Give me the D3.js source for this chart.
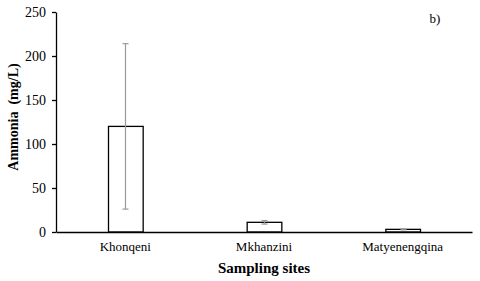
<!DOCTYPE html>
<html>
<head>
<meta charset="utf-8">
<script src="https://d3js.org/d3.v7.min.js"></script>
</head>
<body style="margin:0; background:#fff">
<div id="chart-area"></div>
<script>
// data
var sites = ['Khonqeni', 'Mkhanzini', 'Matyenengqina'];
var ammonia = [120, 11, 3];
var errors = [94, 2, 0.5];
var yTicks = [0, 50, 100, 150, 200, 250];

var serif = 'Liberation Serif';

var margin = { left: 56, right: 8, top: 12, bottom: 49 };
var width = 480 - margin.left - margin.right;
var height = 281 - margin.top - margin.bottom;

var svg = d3.select('#chart-area').append('svg')
    .attr('width', 480)
    .attr('height', 281)
    .attr('font-family', serif);

var g = svg.append('g')
    .attr('transform', 'translate(' + margin.left + ',' + margin.top + ')');

var x = d3.scaleBand()
    .domain(sites)
    .range([0, width])
    .paddingInner(0.75)
    .paddingOuter(0.375);

var y = d3.scaleLinear()
    .domain([0, 250])
    .range([height, 0]);

// bars
g.selectAll('rect.bar').data(sites)
    .enter().append('rect')
    .attr('class', 'bar')
    .attr('x', d => x(d) + 0.5)
    .attr('y', (d, i) => y(ammonia[i]))
    .attr('width', x.bandwidth())
    .attr('height', (d, i) => height - y(ammonia[i]))
    .attr('fill', '#fff')
    .attr('stroke', '#000')
    .attr('stroke-width', 1.3);

// error bars
var err = g.selectAll('g.err').data(sites)
    .enter().append('g')
    .attr('class', 'err')
    .attr('stroke', '#999')
    .attr('stroke-width', 1.2);

var cx = d => Math.round(x(d) + x.bandwidth() / 2) + 0.5;

err.append('line')
    .attr('x1', cx).attr('x2', cx)
    .attr('y1', (d, i) => y(ammonia[i] + errors[i]))
    .attr('y2', (d, i) => y(ammonia[i] - errors[i]));
err.append('line')
    .attr('x1', d => cx(d) - 3).attr('x2', d => cx(d) + 3)
    .attr('y1', (d, i) => y(ammonia[i] + errors[i]))
    .attr('y2', (d, i) => y(ammonia[i] + errors[i]));
err.append('line')
    .attr('x1', d => cx(d) - 3).attr('x2', d => cx(d) + 3)
    .attr('y1', (d, i) => y(ammonia[i] - errors[i]))
    .attr('y2', (d, i) => y(ammonia[i] - errors[i]));

// axes
var yAxisGroup = g.append('g')
    .call(d3.axisLeft(y).tickValues(yTicks).tickSize(4).tickSizeOuter(0).tickPadding(6))
    .attr('font-family', serif)
    .attr('font-size', 14);
yAxisGroup.selectAll('text').attr('fill', '#000');
yAxisGroup.selectAll('path, line').attr('stroke', '#000').attr('stroke-width', 1.3);

var xAxisGroup = g.append('g')
    .attr('transform', 'translate(0,' + height + ')')
    .call(d3.axisBottom(x).tickSize(0).tickPadding(10))
    .attr('font-family', serif)
    .attr('font-size', 13);
xAxisGroup.selectAll('text').attr('fill', '#000');
xAxisGroup.select('path').attr('stroke', '#000').attr('stroke-width', 1.5);

// X Label
svg.append('text')
    .attr('x', margin.left + width / 2)
    .attr('y', 273)
    .attr('text-anchor', 'middle')
    .attr('font-size', 15)
    .attr('font-weight', 'bold')
    .text('Sampling sites');

// Y Label
svg.append('text')
    .attr('transform', 'translate(18,117) rotate(-90)')
    .attr('text-anchor', 'middle')
    .attr('font-size', 14)
    .attr('font-weight', 'bold')
    .style('white-space', 'pre')
    .text('Ammonia  (mg/L)');

// panel letter
svg.append('text')
    .attr('x', 435)
    .attr('y', 23)
    .attr('text-anchor', 'middle')
    .attr('font-size', 13)
    .text('b)');
</script>
</body>
</html>
